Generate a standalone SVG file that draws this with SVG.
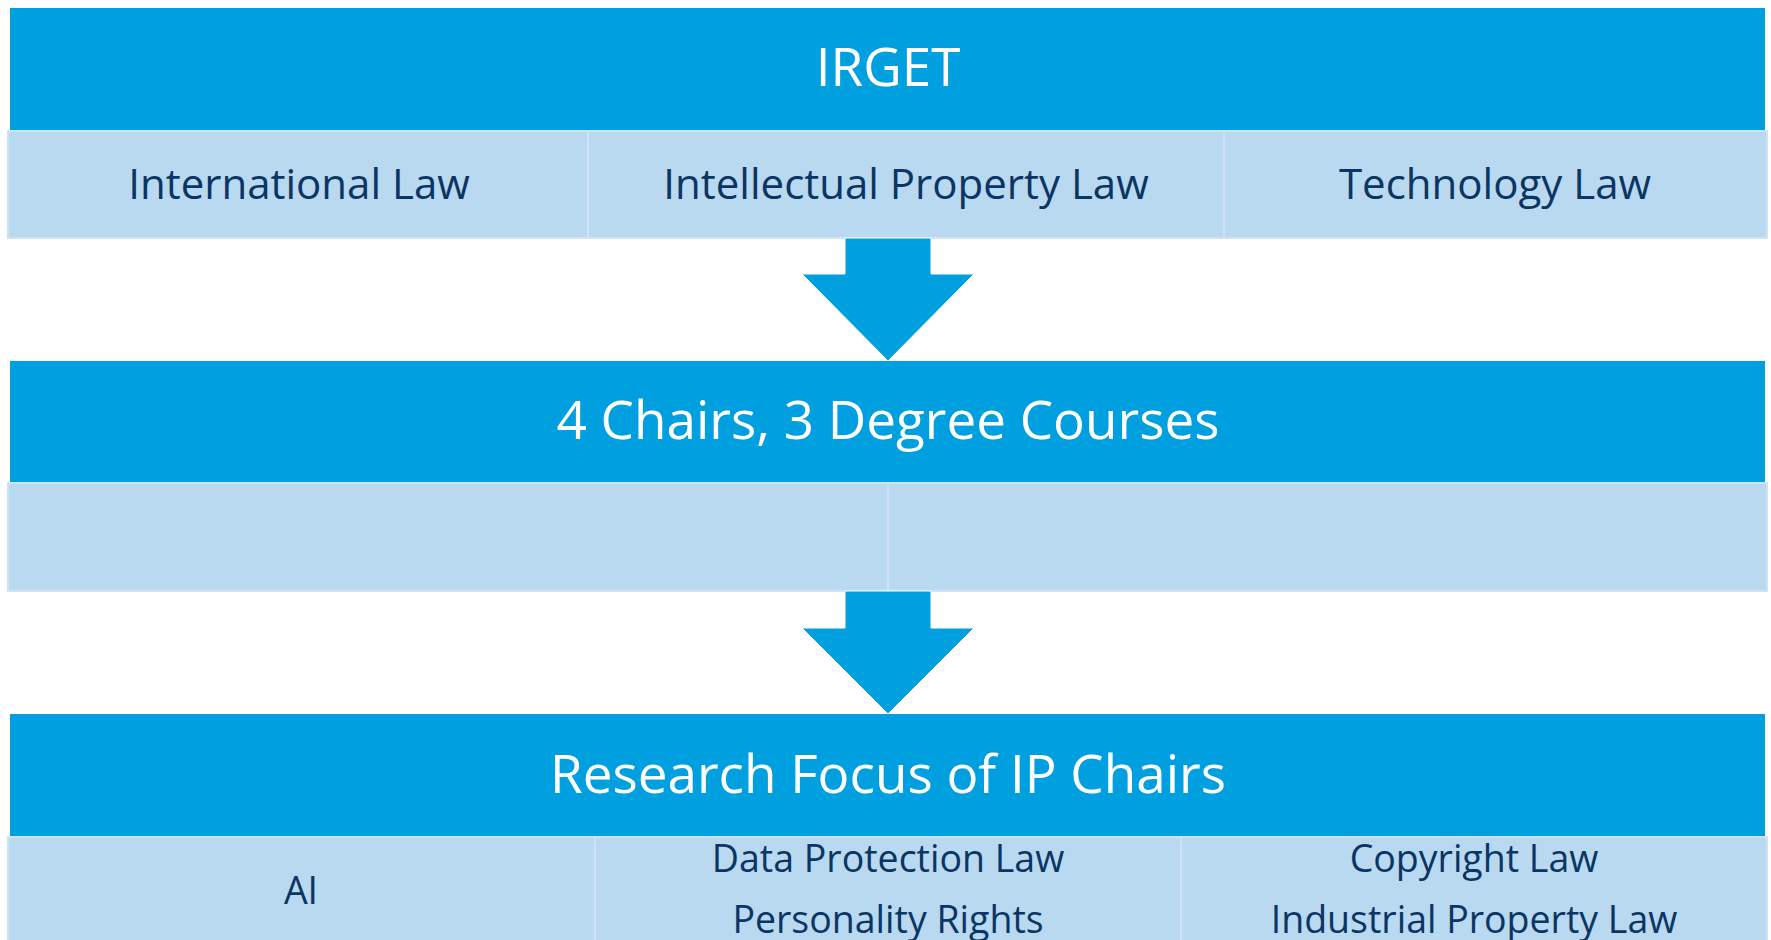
<svg xmlns="http://www.w3.org/2000/svg" width="1771" height="940" viewBox="0 0 1771 940">
<style>
.hdr{fill:#009fe0}
.cell{fill:#b8d9f0;stroke:#cfe3f4;stroke-width:2}
.ht{font-family:"Open Sans","Liberation Sans",sans-serif;font-size:53px;fill:#ffffff;text-anchor:middle}
.ct{font-family:"Open Sans","Liberation Sans",sans-serif;font-size:42px;fill:#0b3563;text-anchor:middle}
.bt{font-family:"Open Sans","Liberation Sans",sans-serif;font-size:37.5px;fill:#0b3563;text-anchor:middle}
.arr{fill:#009fe0;stroke:#ffffff;stroke-width:1}
</style>
<rect width="1771" height="940" fill="#ffffff"/>
<g id="irget">
<rect class="hdr" x="10" y="8" width="1755" height="123"/>
<text class="ht" x="888" y="86">IRGET</text>
</g>
<g id="international-law">
<rect class="cell" x="8" y="131" width="580" height="107"/>
<text class="ct" x="299" y="199">International Law</text>
</g>
<g id="ip-law">
<rect class="cell" x="588" y="131" width="636" height="107"/>
<text class="ct" x="906" y="199">Intellectual Property Law</text>
</g>
<g id="tech-law">
<rect class="cell" x="1224" y="131" width="543" height="107"/>
<text class="ct" x="1495" y="199">Technology Law</text>
</g>
<g id="chairs">
<rect class="hdr" x="10" y="361" width="1755" height="122"/>
<text class="ht" x="888" y="439">4 Chairs, 3 Degree Courses</text>
</g>
<g id="chairs-left">
<rect class="cell" x="8" y="483" width="880" height="108"/>
</g>
<g id="chairs-right">
<rect class="cell" x="888" y="483" width="879" height="108"/>
</g>
<g id="research">
<rect class="hdr" x="10" y="714" width="1755" height="123"/>
<text class="ht" x="888" y="793">Research Focus of IP Chairs</text>
</g>
<g id="ai">
<rect class="cell" x="8" y="837" width="587" height="110"/>
<text class="bt" x="301" y="904">AI</text>
</g>
<g id="data-protection">
<rect class="cell" x="595" y="837" width="586" height="110"/>
<text class="bt" x="888" y="872">Data Protection Law</text>
<text class="bt" x="888" y="933">Personality Rights</text>
</g>
<g id="copyright">
<rect class="cell" x="1181" y="837" width="586" height="110"/>
<text class="bt" x="1474" y="872">Copyright Law</text>
<text class="bt" x="1474" y="933">Industrial Property Law</text>
</g>
<g id="connectors">
<polygon class="arr" points="845,238 931,238 931,274 974,274 888,361 802,274 845,274"/>
<polygon class="arr" points="845,591 931,591 931,628 974,628 888,714 802,628 845,628"/>
</g>
</svg>
